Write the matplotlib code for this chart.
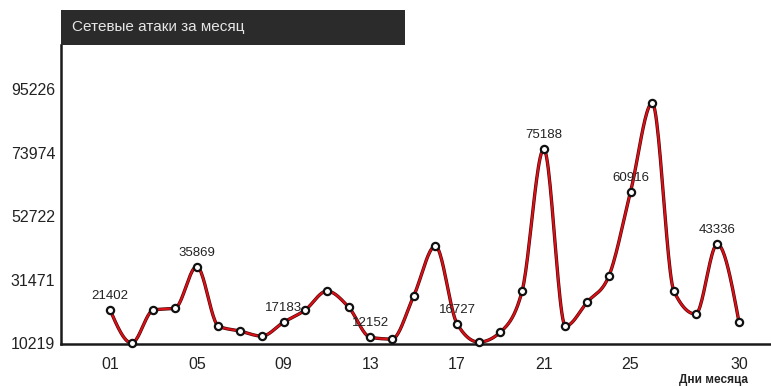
import matplotlib.pyplot as plt
from matplotlib.patches import Rectangle
import numpy as np

days = np.arange(1, 31)
attacks = np.array([
    21402, 10219, 21300, 21944, 35869, 15914, 14239, 12564, 17183, 21300,
    27639, 22279, 12152, 11559, 25964, 42714, 16727, 10554, 13904, 27639,
    75188, 15914, 23954, 32664, 60916, 90619, 27639, 19934, 43336, 17254,
])
labeled_days = [1, 5, 9, 13, 17, 21, 25, 29]
tick_days = [1, 5, 9, 13, 17, 21, 25, 30]
tick_labels = ["01", "05", "09", "13", "17", "21", "25", "30"]
y_ticks = [10219, 31471, 52722, 73974, 95226]

plt.rcParams['font.family'] = ['Liberation Sans', 'DejaVu Sans']


def monotone_curve(x, y, steps=24):
    # monotone cubic (same rule as d3.curveMonotoneX), used only to draw the line
    x = np.asarray(x, float)
    y = np.asarray(y, float)
    h = np.diff(x)
    s = np.diff(y) / h
    m = np.zeros_like(y)
    for i in range(1, len(y) - 1):
        p = (s[i - 1] * h[i] + s[i] * h[i - 1]) / (h[i - 1] + h[i])
        m[i] = (np.sign(s[i - 1]) + np.sign(s[i])) * min(abs(s[i - 1]), abs(s[i]), 0.5 * abs(p))
    m[0] = (3 * s[0] - m[1]) / 2
    m[-1] = (3 * s[-1] - m[-2]) / 2
    xs, ys = [], []
    for i in range(len(y) - 1):
        t = np.linspace(0, 1, steps, endpoint=False)
        h00 = 2 * t ** 3 - 3 * t ** 2 + 1
        h10 = t ** 3 - 2 * t ** 2 + t
        h01 = -2 * t ** 3 + 3 * t ** 2
        h11 = t ** 3 - t ** 2
        xs.append(x[i] + t * h[i])
        ys.append(h00 * y[i] + h10 * h[i] * m[i] + h01 * y[i + 1] + h11 * h[i] * m[i + 1])
    xs.append([x[-1]])
    ys.append([y[-1]])
    return np.concatenate(xs), np.concatenate(ys)


fig = plt.figure(figsize=(7.71, 3.87), dpi=100)
ax = fig.add_axes([0.0791, 0.111, 0.9196, 0.7726])

cx, cy = monotone_curve(days, attacks)
ax.plot(cx, cy, color='#4a0505', lw=2.4, solid_capstyle='round', zorder=2)
ax.plot(cx, cy, color='#d81018', lw=1.5, solid_capstyle='round', zorder=3)
ax.plot(days, attacks, 'o', ms=5.2, mfc='white', mec='#111111', mew=1.6,
        zorder=4, clip_on=False)

for d in labeled_days:
    v = attacks[d - 1]
    ax.annotate(str(v), (d, v), xytext=(0, 10), textcoords='offset points',
                ha='center', va='center', fontsize=9.5, color='#222222')

ax.set_xlim(-1.26, 31.43)
ax.set_ylim(9900, 110050)
ax.set_xticks(tick_days)
ax.set_xticklabels(tick_labels)
ax.set_yticks(y_ticks)
ax.set_yticklabels([str(v) for v in y_ticks])
ax.tick_params(length=0, labelsize=11.5, colors='#222222')
ax.tick_params(axis='x', pad=9)
ax.tick_params(axis='y', pad=4)

for side in ('top', 'right'):
    ax.spines[side].set_visible(False)
for side in ('left', 'bottom'):
    ax.spines[side].set_color('#1a1a1a')
    ax.spines[side].set_linewidth(1.8)

fig.text(0.925, 0.002, "Дни месяца", fontsize=8.5, fontweight='bold',
         ha='center', va='bottom', color='#222222')

# dark header bar with the title
fig.patches.append(Rectangle((0.0791, 0.8837), 0.446, 0.0904,
                             transform=fig.transFigure, facecolor='#2b2b2b',
                             edgecolor='none', zorder=5))
fig.text(0.094, 0.929, "Сетевые атаки за месяц", fontsize=11, color='#e6e6e6',
         ha='left', va='center', zorder=6)

fig.savefig('out.png', dpi=100)
